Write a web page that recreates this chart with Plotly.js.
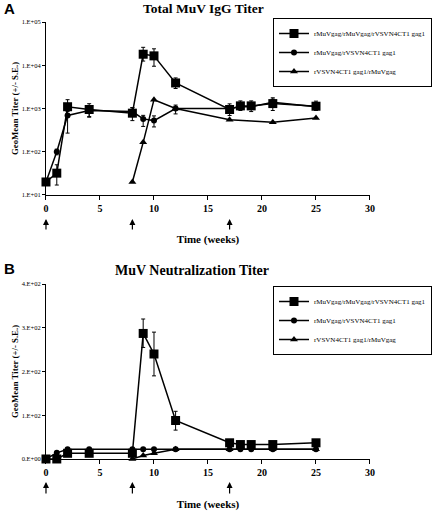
<!DOCTYPE html>
<html><head><meta charset="utf-8">
<script src="https://cdn.plot.ly/plotly-3.0.1.min.js"></script>
<style>html,body{margin:0;padding:0;background:#fff}#chart{width:433px;height:511px}</style>
</head><body><div id="chart"></div>
<script>
// Panel A: Total MuV IgG Titer
const seriesNames = ["rMuVgag/rMuVgag/rVSVN4CT1 gag1", "rMuVgag/rVSVN4CT1 gag1", "rVSVN4CT1 gag1/rMuVgag"];
const weeksAB = [0, 1, 2, 4, 8, 9, 10, 12, 17, 18, 19, 21, 25];
const weeksC = [8, 9, 10, 12, 17, 21, 25];

const iggA = [20, 32, 1100, 950, 780, 18000, 16500, 3900, 950, 1150, 1150, 1300, 1130];
const iggAUp = [0, 18, 500, 340, 260, 8000, 7500, 1200, 330, 350, 350, 470, 350];
const iggADn = [0, 15, 250, 320, 255, 5500, 7000, 1000, 260, 250, 300, 400, 230];

const iggB = [20, 100, 690, 900, 850, 575, 525, 1000, 1000, 1100, 1100, 1400, 1100];
const iggBUp = [0, 15, 600, 250, 200, 120, 150, 200, 0, 0, 0, 250, 0];
const iggBDn = [0, 15, 420, 250, 200, 190, 150, 250, 0, 0, 0, 200, 0];

const iggC = [20, 165, 1600, 1000, 550, 480, 600];

// Panel B: MuV Neutralization Titer
const neutA = [0, 0, 13, 13, 13, 287, 240, 88, 37, 33, 33, 33, 37];
const neutAUp = [0, 0, 0, 0, 0, 33, 50, 21, 0, 0, 0, 0, 0];
const neutADn = [0, 0, 0, 0, 0, 32, 50, 22, 0, 0, 0, 0, 0];
const neutB = [0, 14, 22, 22, 22, 22, 22, 22, 22, 22, 22, 22, 22];
const neutC = [0, 8, 13, 22, 22, 22, 22];

const xTicks = [0, 5, 10, 15, 20, 25, 30];
const logTickVals = [10, 100, 1000, 10000, 100000];
const logTickText = ["1.E+01", "1.E+02", "1.E+03", "1.E+04", "1.E+05"];
const linTickVals = [0, 100, 200, 300, 400];
const linTickText = ["0.E+00", "1.E+02", "2.E+02", "3.E+02", "4.E+02"];
const immunizationWeeks = [0, 8, 17];

const serif = "Liberation Serif, Times New Roman, serif";
const symbols = ["square", "circle", "triangle-up"];
const sizes = [9, 6, 7];

function tr(x, y, i, xa, ya, leg, up, dn) {
  const t = {
    x: x, y: y, name: seriesNames[i], type: "scatter", mode: "lines+markers",
    xaxis: xa, yaxis: ya, legend: leg, cliponaxis: false,
    line: {color: "#000", width: 1.5},
    marker: {symbol: symbols[i], size: sizes[i], color: "#000"}
  };
  if (up) t.error_y = {type: "data", symmetric: false, array: up, arrayminus: dn, color: "#000", thickness: 1, width: 2};
  return t;
}

const data = [
  tr(weeksAB, iggA, 0, "x", "y", "legend", iggAUp, iggADn),
  tr(weeksAB, iggB, 1, "x", "y", "legend", iggBUp, iggBDn),
  tr(weeksC, iggC, 2, "x", "y", "legend"),
  tr(weeksAB, neutA, 0, "x2", "y2", "legend2", neutAUp, neutADn),
  tr(weeksAB, neutB, 1, "x2", "y2", "legend2"),
  tr(weeksC, neutC, 2, "x2", "y2", "legend2")
];

const xAxisBase = {
  range: [0, 30], tickvals: xTicks, ticks: "outside", ticklen: 4, tickcolor: "#000",
  showline: true, linecolor: "#000", linewidth: 1, showgrid: false, zeroline: false,
  tickfont: {family: serif, size: 10, color: "#000", weight: "bold"},
  domain: [0.1062, 0.8545], fixedrange: true
};
const yTitle = {text: "<b>GeoMean Titer (+/- S.E.)</b>", font: {family: serif, size: 8.8, color: "#000"}, standoff: 1};

const annotations = [
  {text: "<b>Total MuV IgG Titer</b>", xref: "paper", yref: "paper", x: 203/433, y: 1 - 9/511, yanchor: "middle", xanchor: "center", showarrow: false, font: {family: serif, size: 13.5, color: "#000"}},
  {text: "<b>MuV Neutralization Titer</b>", xref: "paper", yref: "paper", x: 192/433, y: 1 - 270/511, yanchor: "middle", xanchor: "center", showarrow: false, font: {family: serif, size: 14, color: "#000"}},
  {text: "<b>A</b>", xref: "paper", yref: "paper", x: 0.004, y: 1 - 8/511, xanchor: "left", yanchor: "middle", showarrow: false, font: {family: "Liberation Sans, Arial, sans-serif", size: 15, color: "#000"}},
  {text: "<b>B</b>", xref: "paper", yref: "paper", x: 0.004, y: 1 - 268/511, xanchor: "left", yanchor: "middle", showarrow: false, font: {family: "Liberation Sans, Arial, sans-serif", size: 15, color: "#000"}}
];
immunizationWeeks.forEach(w => {
  annotations.push({x: w, y: 1 - 219/511, xref: "x", yref: "paper", text: "", showarrow: true, arrowhead: 2, arrowsize: 1, arrowwidth: 1.2, arrowcolor: "#000", ax: 0, ay: 12});
  annotations.push({x: w, y: 1 - 482/511, xref: "x2", yref: "paper", text: "", showarrow: true, arrowhead: 2, arrowsize: 1, arrowwidth: 1.2, arrowcolor: "#000", ax: 0, ay: 13});
});

const legBase = {
  bgcolor: "#fff", bordercolor: "#000", borderwidth: 1,
  font: {family: serif, size: 7, color: "#000"},
  xanchor: "right", yanchor: "top", itemwidth: 30, tracegroupgap: 0
};

const layout = {
  width: 433, height: 511, margin: {l: 0, r: 0, t: 0, b: 0},
  paper_bgcolor: "#fff", plot_bgcolor: "#fff", showlegend: true,
  font: {family: serif, color: "#000"},
  xaxis: Object.assign({}, xAxisBase, {anchor: "y", title: {text: "<b>Time (weeks)</b>", font: {family: serif, size: 11, color: "#000"}, standoff: 22}}),
  xaxis2: Object.assign({}, xAxisBase, {anchor: "y2", title: {text: "<b>Time (weeks)</b>", font: {family: serif, size: 11, color: "#000"}, standoff: 24}}),
  yaxis: {
    type: "log", range: [1, 5], domain: [0.6184, 0.9569], anchor: "x",
    tickvals: logTickVals, ticktext: logTickText, ticks: "outside", ticklen: 3, tickcolor: "#000",
    showline: true, linecolor: "#000", linewidth: 1, showgrid: false, zeroline: false,
    tickfont: {family: serif, size: 6.5, color: "#000"}, title: yTitle, fixedrange: true
  },
  yaxis2: {
    range: [0, 400], domain: [0.1018, 0.4442], anchor: "x2",
    tickvals: linTickVals, ticktext: linTickText, ticks: "outside", ticklen: 3, tickcolor: "#000",
    showline: true, linecolor: "#000", linewidth: 1, showgrid: false, zeroline: false,
    tickfont: {family: serif, size: 6.5, color: "#000"}, title: yTitle, fixedrange: true
  },
  legend: Object.assign({}, legBase, {x: 432/433, y: 1 - 18/511}),
  legend2: Object.assign({}, legBase, {x: 432/433, y: 1 - 286/511}),
  annotations: annotations
};

Plotly.newPlot("chart", data, layout, {displayModeBar: false, staticPlot: true});
</script></body></html>
